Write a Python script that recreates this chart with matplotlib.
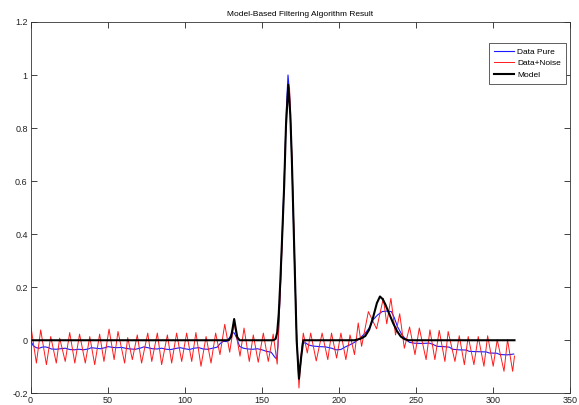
import matplotlib
matplotlib.use("Agg")
import matplotlib.pyplot as plt

# MATLAB-like narrow sans font, fall back to regular Liberation Sans
plt.rcParams['font.family'] = ['Liberation Sans Narrow', 'Liberation Sans', 'DejaVu Sans']

# Data
# clean ECG beat (blue)
pure_x = [0, 1.7, 3.7, 5.6, 7.6, 9.6, 11.6, 13.6, 16.6, 19.5, 22.5, 25.5, 28.5, 31.4, 34.4,
          37.4, 39.4, 42.3, 45.3, 48.3, 50.3, 53.3, 56.2, 59.2, 62.2, 65, 68, 71, 73.5, 76,
          79, 82, 85, 88, 91, 94, 97, 100, 103, 106, 109, 112, 115, 118, 121, 123, 125, 127,
          129, 130.5, 132, 133.5, 135.5, 138, 141, 144, 147, 150, 153, 156, 158.5, 159.5,
          160.4, 161.4, 162.9, 164.4, 165.9, 166.9, 167.9, 169.4, 171.1, 172.6, 173.9, 174.9,
          176.4, 178.3, 180.3, 183.2, 187.2, 191.2, 195.1, 198.1, 201.1, 204.1, 207.1, 210,
          213, 217, 220, 222, 224.9, 227.9, 230.9, 233.9, 235.8, 237.8, 240.8, 243.8, 245.7,
          248.7, 252.7, 258.6, 260.6, 263.6, 267.6, 271.5, 273.5, 277.5, 282.5, 284.4, 289.4,
          295.4, 297.3, 302.3, 304.3, 309.3, 313.2]
pure_y = [0.0, -0.02, -0.028, -0.03, -0.026, -0.025, -0.028, -0.033, -0.034, -0.032, -0.03,
          -0.035, -0.036, -0.034, -0.036, -0.033, -0.028, -0.03, -0.032, -0.028, -0.024,
          -0.027, -0.028, -0.027, -0.031, -0.033, -0.034, -0.03, -0.025, -0.028, -0.032,
          -0.033, -0.03, -0.034, -0.035, -0.031, -0.028, -0.032, -0.035, -0.03, -0.028,
          -0.033, -0.034, -0.03, -0.026, -0.012, -0.004, -0.005, 0.01, 0.027, 0.028, 0.01,
          -0.023, -0.03, -0.033, -0.034, -0.032, -0.036, -0.042, -0.045, -0.065, -0.07,
          -0.02, 0.12, 0.36, 0.6, 0.88, 1.0, 0.93, 0.68, 0.3, 0.0, -0.14, -0.1,
          -0.01, -0.01, -0.018, -0.022, -0.024, -0.025, -0.03, -0.036, -0.035, -0.025,
          -0.017, -0.008, 0.005, 0.027, 0.05, 0.077, 0.095, 0.108, 0.11, 0.108, 0.085,
          0.052, 0.02, 0.0, -0.008, -0.011, -0.012, -0.011, -0.015, -0.023, -0.024, -0.026,
          -0.034, -0.036, -0.037, -0.042, -0.043, -0.044, -0.048, -0.049, -0.054, -0.055,
          -0.052]

# noisy measurement (red)
noisy_x = [0, 3.8, 6.6, 10.3, 13.1, 16.7, 18.9, 22.5, 25.4, 28.7, 31.8, 35.5, 38.4, 41.6,
           44.8, 47.6, 50.9, 54.2, 56.7, 61.0, 63.0, 66.0, 69.2, 72.0, 76.0, 78.6, 82.2, 85.0,
           88.7, 91.5, 94.7, 98.0, 101.2, 104.5, 107.2, 110.5, 113.8, 117.0, 120.0, 122.8,
           125.9, 129.1, 132.0, 135.8, 138.4, 141.8, 144.4, 147.6, 150.9, 154.1, 157.3, 159.9,
           160.9, 162.4, 163.9, 165.4, 166.9, 167.9, 169.4, 170.9, 172.3, 174.0, 175.3, 176.8,
           179.4, 181.6, 185.2, 189.0, 192.7, 195.1, 198.4, 201.2, 204.4, 207.1, 210.0, 212.4,
           214.6, 219.0, 224.3, 228.7, 230.9, 233.6, 236.6, 239.3, 242.3, 245.7, 249.2, 252.0,
           256.4, 258.9, 262.1, 264.9, 268.6, 270.7, 275.1, 277.9, 281.2, 283.7, 287.4, 290.2,
           293.9, 296.3, 299.9, 302.5, 306.9, 309.2, 312.5, 313.7]
noisy_y = [0.062, -0.086, 0.039, -0.092, 0.014, -0.086, 0.008, -0.08, 0.029, -0.086, 0.023,
           -0.086, 0.014, -0.092, 0.023, -0.08, 0.042, -0.073, 0.033, -0.086, 0.01, -0.073,
           0.02, -0.086, 0.027, -0.08, 0.027, -0.092, 0.02, -0.086, 0.027, -0.08, 0.027,
           -0.08, 0.029, -0.098, 0.014, -0.086, 0.027, -0.054, 0.06, -0.045, 0.066, -0.06,
           0.046, -0.08, 0.02, -0.083, 0.027, -0.08, 0.023, -0.09,
           0.05, 0.25, 0.5, 0.78, 0.96, 0.95, 0.7, 0.38, 0.05, -0.18, -0.06, 0.027,
           -0.048, 0.027, -0.078, 0.027, -0.073, 0.027, -0.067, 0.027, -0.073, 0.02, -0.054,
           0.065, -0.023, 0.108, 0.043, 0.158, 0.062, 0.158, 0.02, 0.1, -0.03, 0.05, -0.054,
           0.046, -0.073, 0.039, -0.073, 0.037, -0.08, 0.033, -0.08, 0.017, -0.092, 0.014,
           -0.092, 0.014, -0.098, 0.017, -0.098, 0.002, -0.117, 0.002, -0.117, -0.06]

# fitted model (black)
model_x = [0, 128.5, 130, 131, 132, 133, 134, 135.5, 157.4, 158.9, 159.9, 160.9, 161.9,
           162.9, 164.4, 165.6, 167.1, 168.4, 169.4, 171.1, 172.5, 174.0, 175.3, 176.8,
           210, 214, 217, 219.5, 222, 224.5, 226.5, 228.3, 230, 232.5, 235, 237.5, 240,
           242.5, 245, 313.7]
model_y = [0, 0, 0.012, 0.045, 0.08, 0.045, 0.012, 0, 0, 0.005, 0.03, 0.1, 0.22,
           0.36, 0.58, 0.81, 0.963, 0.85, 0.68, 0.31, 0.0, -0.145, -0.07, 0,
           0, 0.006, 0.016, 0.04, 0.085, 0.14, 0.165, 0.155, 0.135, 0.1, 0.065, 0.035, 0.014,
           0.004, 0, 0]

xticks = [0, 50, 100, 150, 200, 250, 300, 350]
yticks = [-0.2, 0, 0.2, 0.4, 0.6, 0.8, 1, 1.2]
ytick_labels = ['-0.2', '0', '0.2', '0.4', '0.6', '0.8', '1', '1.2']

fig = plt.figure(figsize=(5.79, 4.05), dpi=100)
ax = fig.add_axes([0.0527, 0.0289, 0.9326, 0.9168])

ax.plot(pure_x, pure_y, color='#1a1aff', lw=0.8, label='Data Pure')
ax.plot(noisy_x, noisy_y, color='#ff1a1a', lw=0.7, label='Data+Noise')
ax.plot(model_x, model_y, color='k', lw=1.5, label='Model')

ax.set_xlim(0, 350)
ax.set_ylim(-0.2, 1.2)
ax.set_xticks(xticks)
ax.set_xticklabels([str(t) for t in xticks])
ax.set_yticks(yticks)
ax.set_yticklabels(ytick_labels)
ax.tick_params(direction='in', length=4, width=0.6, top=True, right=True,
               labelsize=6.5, pad=2, colors='#222222')
for sp in ax.spines.values():
    sp.set_linewidth(0.6)
    sp.set_color('#333333')

ax.set_title('Model-Based Filtering Algorithm Result', fontsize=6, pad=4.5)

leg = ax.legend(loc='upper right', bbox_to_anchor=(0.9917, 0.9443), borderaxespad=0,
                fontsize=6, handlelength=2.4, handletextpad=0.4, labelspacing=0.45,
                borderpad=0.6, fancybox=False, framealpha=1)
leg.get_frame().set_edgecolor('#444444')
leg.get_frame().set_linewidth(0.6)

fig.savefig('out.png', dpi=100)
